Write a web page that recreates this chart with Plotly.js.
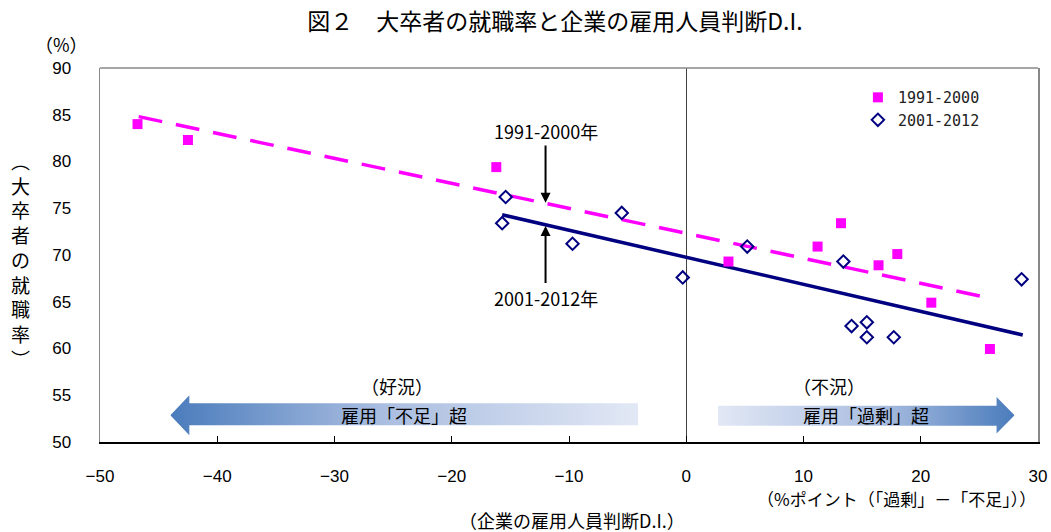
<!DOCTYPE html>
<html>
<head>
<meta charset="utf-8">
<script src="https://cdn.plot.ly/plotly-3.0.1.min.js"></script>
<style>html,body{margin:0;padding:0;background:#fff;}#chart{width:1051px;height:532px;}</style>
</head>
<body>
<div id="chart"></div>
<script>
// 1991-2000: 雇用人員判断D.I. (x) vs 大卒者の就職率 (y)
const di_1991_2000 = [-46.8, -42.5, -16.2, 3.6, 11.2, 13.2, 16.4, 18.0, 20.9, 25.9];
const rate_1991_2000 = [84.0, 82.3, 79.4, 69.3, 70.9, 73.4, 68.9, 70.1, 64.9, 59.95];
// 2001-2012
const di_2001_2012 = [-15.4, -15.7, -9.7, -5.5, -0.3, 5.2, 13.4, 28.6, 14.1, 15.4, 15.4, 17.7];
const rate_2001_2012 = [76.2, 73.4, 71.2, 74.5, 67.6, 70.9, 69.3, 67.4, 62.4, 62.8, 61.2, 61.2];
// trend lines (endpoints)
const trend1_x = [-46.7, 25.5];
const trend1_y = [84.8, 65.5];
const trend2_x = [-15.7, 28.7];
const trend2_y = [74.3, 61.45];
// labels
const seriesNames = ['1991-2000', '2001-2012'];
const xTicks = [-50, -40, -30, -20, -10, 0, 10, 20, 30];
const yTicks = [50, 55, 60, 65, 70, 75, 80, 85, 90];

const FONT = 'Liberation Sans, Arial, "Noto Sans CJK JP", sans-serif';
const JFONT = '"Noto Sans CJK JP", "Liberation Sans", sans-serif';

function svgUri(svg){ return 'data:image/svg+xml;charset=utf-8,' + encodeURIComponent(svg); }

const leftArrowSvg = '<svg xmlns="http://www.w3.org/2000/svg" width="468" height="40" viewBox="0 0 468 40" preserveAspectRatio="none">' +
  '<defs><linearGradient id="g" x1="0" y1="0" x2="1" y2="0">' +
  '<stop offset="0" stop-color="#4a7cbc"/><stop offset="0.45" stop-color="#a9bde0"/><stop offset="1" stop-color="#e2e8f5"/></linearGradient></defs>' +
  '<path d="M0,20 L19,0 L19,8 L468,8 L468,30 L19,30 L19,40 Z" fill="url(#g)"/></svg>';
const rightArrowSvg = '<svg xmlns="http://www.w3.org/2000/svg" width="297" height="40" viewBox="0 0 297 40" preserveAspectRatio="none">' +
  '<defs><linearGradient id="g" x1="0" y1="0" x2="1" y2="0">' +
  '<stop offset="0" stop-color="#e2e8f5"/><stop offset="0.55" stop-color="#a9bde0"/><stop offset="1" stop-color="#4a7cbc"/></linearGradient></defs>' +
  '<path d="M0,9 L279,9 L279,0 L297,19 L279,38 L279,30 L0,30 Z" fill="url(#g)"/></svg>';

const data = [
  {x: trend1_x, y: trend1_y, mode: 'lines', showlegend: false, hoverinfo: 'skip',
   line: {color: '#ff00ff', width: 3.5, dash: '24px,14px'}},
  {x: trend2_x, y: trend2_y, mode: 'lines', showlegend: false, hoverinfo: 'skip',
   line: {color: '#000080', width: 3.5}},
  {x: di_1991_2000, y: rate_1991_2000, mode: 'markers', name: seriesNames[0],
   marker: {symbol: 'square', size: 10, color: '#ff00ff'}},
  {x: di_2001_2012, y: rate_2001_2012, mode: 'markers', name: seriesNames[1],
   marker: {symbol: 'diamond-open', size: 9.5, color: '#000080', line: {width: 2, color: '#000080'}}}
];

const layout = {
  width: 1051, height: 532,
  margin: {l: 100, r: 13, t: 68, b: 90},
  paper_bgcolor: '#fff', plot_bgcolor: '#fff',
  font: {family: FONT, size: 17, color: '#000'},
  title: {text: '図２　大卒者の就職率と企業の雇用人員判断D.I.', font: {family: JFONT, size: 23, color: '#000'},
          xref: 'container', yref: 'container', x: 0.528, xanchor: 'center', y: 0.958, yanchor: 'middle'},
  showlegend: true,
  legend: {x: 0.808, y: 0.965, xanchor: 'left', yanchor: 'top', bgcolor: 'rgba(0,0,0,0)',
           font: {family: '"DejaVu Sans Mono", "Liberation Mono", monospace', size: 15, color: '#222'},
           itemwidth: 30, tracegroupgap: 4},
  xaxis: {range: [-50, 30], tickvals: xTicks, ticktext: xTicks.map(v => v < 0 ? '−' + Math.abs(v) : String(v)),
          showgrid: false, zeroline: true, zerolinecolor: '#444', zerolinewidth: 1,
          showline: true, linecolor: '#000', linewidth: 1.5, ticks: 'inside', ticklen: 6, tickcolor: '#000',
          ticklabelstandoff: 18, tickfont: {size: 17}},
  yaxis: {range: [50, 90], tickvals: yTicks, showgrid: false, zeroline: false,
          showline: true, linecolor: '#888', linewidth: 1.5, mirror: true, ticks: '',
          ticklabelstandoff: 24, tickfont: {size: 17}},
  shapes: [
    {type: 'line', xref: 'paper', yref: 'paper', x0: 0, x1: 1, y0: 1, y1: 1, line: {color: '#888', width: 1.5}}
  ],
  images: [
    {source: svgUri(leftArrowSvg), xref: 'x', yref: 'y', x: -44.0, y: 55.0, sizex: 39.9, sizey: 4.28,
     xanchor: 'left', yanchor: 'top', sizing: 'stretch', layer: 'below'},
    {source: svgUri(rightArrowSvg), xref: 'x', yref: 'y', x: 2.7, y: 54.8, sizex: 25.3, sizey: 4.1,
     xanchor: 'left', yanchor: 'top', sizing: 'stretch', layer: 'below'}
  ],
  annotations: [
    {text: '（%）', xref: 'paper', yref: 'paper', x: -0.041, y: 1.064, showarrow: false,
     font: {family: JFONT, size: 18}, xanchor: 'center', yanchor: 'middle'},
    {text: '︵<br>大<br>卒<br>者<br>の<br>就<br>職<br>率<br>︶', xref: 'paper', yref: 'paper', x: -0.085, y: 0.489,
     showarrow: false, font: {family: JFONT, size: 19}, xanchor: 'center', yanchor: 'middle'},
    {text: '（%ポイント（「過剰」－「不足」））', xref: 'paper', yref: 'paper', x: 1.0, y: -0.15,
     showarrow: false, font: {family: JFONT, size: 17}, xanchor: 'right', yanchor: 'middle'},
    {text: '（企業の雇用人員判断D.I.）', xref: 'paper', yref: 'paper', x: 0.503, y: -0.209,
     showarrow: false, font: {family: JFONT, size: 18}, xanchor: 'center', yanchor: 'middle'},
    {text: '1991-2000年', x: -12.0, y: 75.6, ax: -12.0, ay: 81.7, axref: 'x', ayref: 'y',
     showarrow: true, arrowhead: 2, arrowsize: 1, arrowwidth: 2, arrowcolor: '#000',
     xanchor: 'center', yanchor: 'bottom', font: {family: JFONT, size: 18}},
    {text: '2001-2012年', x: -12.0, y: 73.1, ax: -12.0, ay: 67.0, axref: 'x', ayref: 'y',
     showarrow: true, arrowhead: 2, arrowsize: 1, arrowwidth: 2, arrowcolor: '#000',
     xanchor: 'center', yanchor: 'top', font: {family: JFONT, size: 18}},
    {text: '（好況）', x: -24.7, y: 56.0, showarrow: false, font: {family: JFONT, size: 18}},
    {text: '雇用「不足」超', x: -24.1, y: 52.9, showarrow: false, font: {family: JFONT, size: 18}},
    {text: '（不況）', x: 12.2, y: 56.0, showarrow: false, font: {family: JFONT, size: 18}},
    {text: '雇用「過剰」超', x: 15.3, y: 52.9, showarrow: false, font: {family: JFONT, size: 18}}
  ]
};

Plotly.newPlot('chart', data, layout, {displayModeBar: false, staticPlot: true});
</script>
</body>
</html>
